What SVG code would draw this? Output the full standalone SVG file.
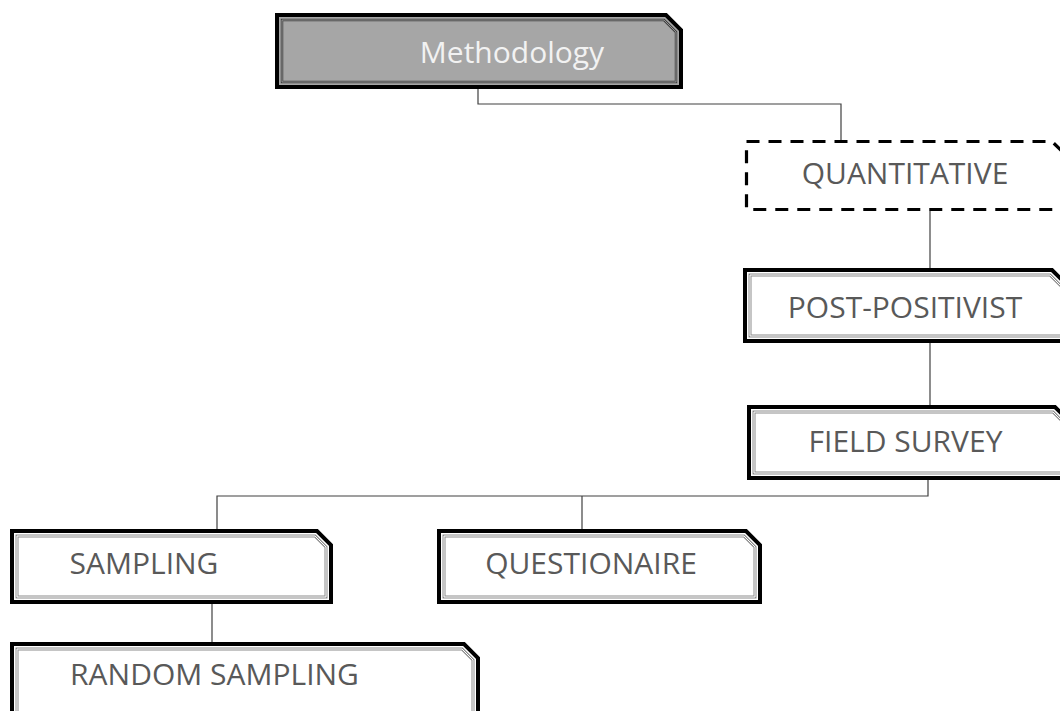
<svg xmlns="http://www.w3.org/2000/svg" width="1060" height="711" viewBox="0 0 1060 711">
<style>
.outer{fill:#ffffff;stroke:#000000;stroke-width:4;stroke-linejoin:miter}
.in1{fill:none;stroke:#8c8c8c;stroke-width:3}
.in2{fill:none;stroke:#ffffff;stroke-width:1}
.lbl{font-family:"Open Sans","DejaVu Sans",sans-serif;font-size:30px;fill:#595959;text-anchor:middle}
.conn{fill:none;stroke:#404040;stroke-width:1.2}
</style>
<rect width="1060" height="711" fill="#ffffff"/>
<g id="connectors">
<path class="conn" d="M478,89 V104 H841 V141"/>
<path class="conn" d="M930,211 V268"/>
<path class="conn" d="M930,343 V405"/>
<path class="conn" d="M928,480 V496 H217 V529"/>
<path class="conn" d="M582,496 V529"/>
<path class="conn" d="M212,604 V642"/>
</g>
<g id="methodology">
<path d="M277,15 H666 L681,30 V87 H277 Z" fill="#a6a6a6" stroke="#000000" stroke-width="4"/>
<path d="M282,20 H664 L676,32 V82 H282 Z" fill="none" stroke="#404040" stroke-width="2.5"/>
<path d="M282,20 H664 L676,32 V82 H282 Z" fill="none" stroke="#a6a6a6" stroke-width="0.8"/>
<text x="512" y="63" class="lbl" style="fill:#f2f2f2">Methodology</text>
</g>
<g id="quantitative">
<path d="M746.5,141.5 H1052 L1068,157 V209.5 H746.5 Z" fill="#ffffff" stroke="#000000" stroke-width="3.2" stroke-dasharray="13,9"/>
<text x="905" y="184" class="lbl">QUANTITATIVE</text>
</g>
<g id="post-positivist">
<path class="outer" d="M745,270 H1052 L1067,285 V341 H745 Z"/>
<path class="in1" d="M750,275 H1050 L1062,287 V336 H750 Z"/>
<path class="in2" d="M750,275 H1050 L1062,287 V336 H750 Z"/>
<text x="905" y="318" class="lbl">POST-POSITIVIST</text>
</g>
<g id="field-survey">
<path class="outer" d="M749,407 H1055 L1070,422 V478 H749 Z"/>
<path class="in1" d="M754,412 H1053 L1065,424 V473 H754 Z"/>
<path class="in2" d="M754,412 H1053 L1065,424 V473 H754 Z"/>
<text x="905.5" y="452" class="lbl">FIELD SURVEY</text>
</g>
<g id="sampling">
<path class="outer" d="M12,531 H317 L331,545 V602 H12 Z"/>
<path class="in1" d="M17,536 H315 L326,547 V597 H17 Z"/>
<path class="in2" d="M17,536 H315 L326,547 V597 H17 Z"/>
<text x="144" y="574" class="lbl">SAMPLING</text>
</g>
<g id="questionaire">
<path class="outer" d="M439,531 H746 L760,545 V602 H439 Z"/>
<path class="in1" d="M444,536 H744 L755,547 V597 H444 Z"/>
<path class="in2" d="M444,536 H744 L755,547 V597 H444 Z"/>
<text x="591" y="574" class="lbl">QUESTIONAIRE</text>
</g>
<g id="random-sampling">
<path class="outer" d="M12,644 H464 L478,658 V720 H12 Z"/>
<path class="in1" d="M17,649 H462 L473,660 V715 H17 Z"/>
<path class="in2" d="M17,649 H462 L473,660 V715 H17 Z"/>
<text x="214.5" y="685" class="lbl">RANDOM SAMPLING</text>
</g>
</svg>
